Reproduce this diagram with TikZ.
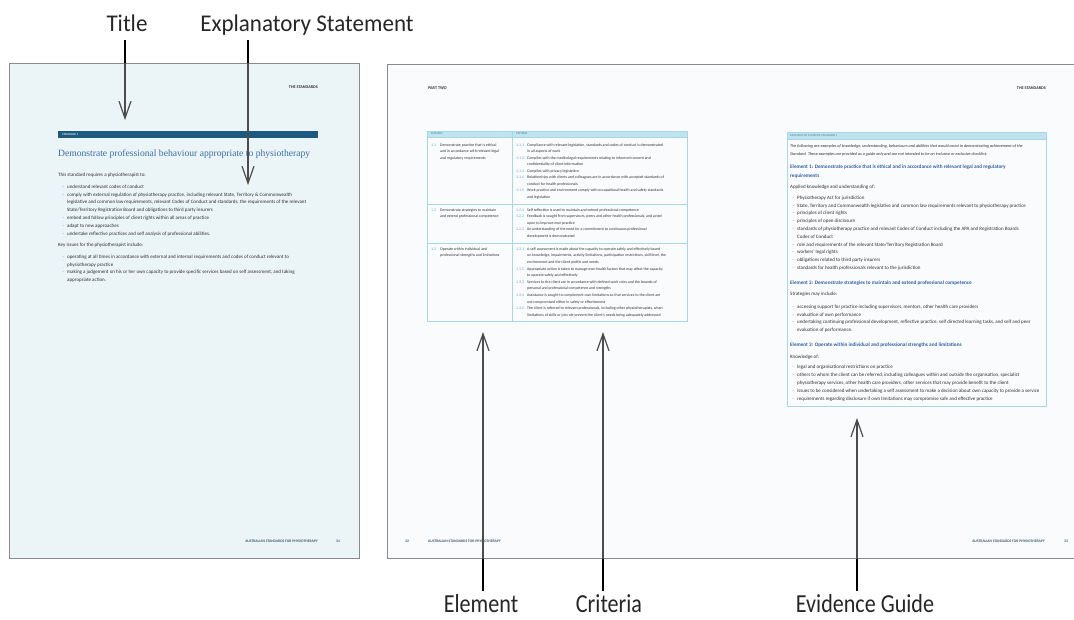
\documentclass[tikz,border=0pt]{standalone}
\usepackage{fontspec}
\setmainfont{Carlito}
\newfontfamily\calloutfont[FakeStretch=0.96]{Carlito}
\newfontfamily\calloutfontb[FakeStretch=0.85]{Carlito}
\newfontfamily\headserif{Liberation Serif}
\usepackage{array}
\usetikzlibrary{arrows.meta,positioning}

\definecolor{leafblue}{HTML}{EBF4F7}
\definecolor{leafwhite}{HTML}{FAFBFC}
\definecolor{leafedge}{HTML}{8A8A8A}
\definecolor{barblue}{HTML}{1D5A80}
\definecolor{titleblue}{HTML}{3C6EA5}
\definecolor{headblue}{HTML}{2F5F9F}
\definecolor{dashblue}{HTML}{5FA8D3}
\definecolor{gridblue}{HTML}{A6D6E8}
\definecolor{capblue}{HTML}{BFE4EF}
\definecolor{capink}{HTML}{6A9BB5}
\definecolor{inkgray}{HTML}{303030}
\definecolor{footblue}{HTML}{3C5A72}

\newcommand{\bdash}{\textcolor{dashblue}{--}}
\newcommand{\critno}[1]{\textcolor{dashblue}{#1}}
\newcommand{\dashlist}[1]{\begin{tabular}[t]{@{}p{5pt}@{}l@{}}#1\end{tabular}}
\newcommand{\textrows}[1]{\begin{tabular}[t]{@{}l@{}}#1\end{tabular}}
\newcommand{\critrows}[2]{\begin{tabular}[t]{@{}p{#1}@{}l@{}}#2\end{tabular}}

\begin{document}
\begin{tikzpicture}[
    x=1pt, y=-1pt,
    page/.style={draw=leafedge, line width=1.3pt, inner sep=0pt, anchor=north west},
    callout/.style={font=\calloutfont\fontsize{24}{26}\selectfont, text=black!85, inner sep=2pt, text depth=6pt, anchor=south},
    calloutb/.style={font=\calloutfontb\fontsize{26}{28}\selectfont, text=black!85, inner sep=0pt, text height=21pt, text depth=0pt, anchor=north},
    inarrow/.style={draw=black!70, line width=1.2pt, -{Straight Barb[length=17pt,width=12pt]}},
    outarrow/.style={draw=black, line width=2.2pt},
    body/.style={anchor=base west, inner sep=0pt, text=inkgray, font=\fontsize{5}{7.8}\selectfont},
    cell/.style={anchor=base west, inner sep=0pt, text=inkgray, font=\fontsize{3.9}{6.5}\selectfont},
    runhead/.style={inner sep=0pt, text=inkgray, font=\bfseries\fontsize{4.2}{5}\selectfont},
    foot/.style={inner sep=0pt, text=footblue, font=\bfseries\fontsize{3.7}{4}\selectfont},
    caption/.style={anchor=west, inner sep=0pt, text=capink, font=\bfseries\fontsize{3}{4}\selectfont},
    elhead/.style={anchor=base west, inner sep=0pt, text=headblue, font=\bfseries\fontsize{5.2}{9}\selectfont},
    grid/.style={draw=gridblue, line width=0.8pt}
]

\useasboundingbox (0,0) rectangle (1074,619);
\clip (0,0) rectangle (1074,619);
\fill[white] (0,0) rectangle (1074,619);

% Pages
\node[page, fill=leafblue, minimum width=350pt, minimum height=495pt] (page1) at (9,63) {};
\node[page, fill=leafwhite, minimum width=700pt, minimum height=494pt] (spread) at (387,64) {};

% Standard page: header, title and explanatory statement
\node[runhead, anchor=east] (p1head) at (318,87) {THE STANDARDS};
\fill[barblue] (58,131) rectangle (318,138);
\node[caption, text=white!80!barblue] (p1bar) at (62,134.5) {STANDARD 1};
\node[anchor=west, inner sep=0pt, text=titleblue, font=\headserif\fontsize{9.6}{11}\selectfont] (p1title) at (58,154) {Demonstrate professional behaviour appropriate to physiotherapy};

\node[body] (p1intro) at (58,176.2) {This standard requires a physiotherapist to:};
\node[body] (p1list) at (62,188.2) {\dashlist{%
    \bdash & understand relevant codes of conduct\\
    \bdash & comply with external regulation of physiotherapy practice, including relevant State, Territory \& Commonwealth\\
           & legislative and common law requirements, relevant Codes of Conduct and standards, the requirements of the relevant\\
           & State/Territory Registration Board and obligations to third party insurers\\
    \bdash & embed and follow principles of client rights within all areas of practice\\
    \bdash & adapt to new approaches\\
    \bdash & undertake reflective practices and self analysis of professional abilities.}};
\node[body] (p1key) at (58,246.2) {Key issues for the physiotherapist include:};
\node[body] (p1issues) at (62,258.2) {\dashlist{%
    \bdash & operating at all times in accordance with external and internal requirements and codes of conduct relevant to\\
           & physiotherapy practice\\
    \bdash & making a judgement on his or her own capacity to provide specific services based on self assessment, and taking\\
           & appropriate action.}};
\node[foot, anchor=east] (p1foot) at (318,541) {AUSTRALIAN STANDARDS FOR PHYSIOTHERAPY};
\node[foot] (p1no) at (338,541) {31};

% Spread, left page: element and criteria table
\node[runhead, anchor=west] (p2head) at (428,88) {PART TWO};
\fill[capblue] (427,131) rectangle (687,137);
\draw[grid] (427,131) rectangle (687,321);
\draw[grid] (512,131) -- (512,321);
\foreach \y in {137,204,243} {
    \draw[grid] (427,\y) -- (687,\y);
}
\node[caption] (elcap) at (431,134) {ELEMENT};
\node[caption] (crcap) at (516,134) {CRITERIA};

\node[cell] (el1) at (431,146.2) {\critrows{9pt}{%
    \critno{1.1} & Demonstrate practice that is ethical\\
                 & and in accordance with relevant legal\\
                 & and regulatory requirements}};
\node[cell] (cr1) at (516,146.2) {\critrows{11pt}{%
    \critno{1.1.1} & Compliance with relevant legislation, standards and codes of conduct is demonstrated\\
                   & in all aspects of work\\
    \critno{1.1.2} & Complies with the medicolegal requirements relating to informed consent and\\
                   & confidentiality of client information\\
    \critno{1.1.3} & Complies with privacy legislation\\
    \critno{1.1.4} & Relationships with clients and colleagues are in accordance with accepted standards of\\
                   & conduct for health professionals\\
    \critno{1.1.5} & Work practice and environment comply with occupational health and safety standards\\
                   & and legislation}};

\node[cell] (el2) at (431,211.2) {\critrows{9pt}{%
    \critno{1.2} & Demonstrate strategies to maintain\\
                 & and extend professional competence}};
\node[cell] (cr2) at (516,211.2) {\critrows{11pt}{%
    \critno{1.2.1} & Self reflection is used to maintain and extend professional competence\\
    \critno{1.2.2} & Feedback is sought from supervisors, peers and other health professionals, and acted\\
                   & upon to improve own practice\\
    \critno{1.2.3} & An understanding of the need for a commitment to continuous professional\\
                   & development is demonstrated}};

\node[cell] (el3) at (431,250.2) {\critrows{9pt}{%
    \critno{1.3} & Operate within individual and\\
                 & professional strengths and limitations}};
\node[cell, font=\fontsize{3.9}{6.6}\selectfont] (cr3) at (516,250.2) {\critrows{11pt}{%
    \critno{1.3.1} & A self assessment is made about the capacity to operate safely and effectively based\\
                   & on knowledge, impairments, activity limitations, participation restrictions, skill level, the\\
                   & environment and the client profile and needs\\
    \critno{1.3.2} & Appropriate action is taken to manage own health factors that may affect the capacity\\
                   & to operate safely and effectively\\
    \critno{1.3.3} & Services to the client are in accordance with defined work roles and the bounds of\\
                   & personal and professional competence and strengths\\
    \critno{1.3.4} & Assistance is sought to complement own limitations so that services to the client are\\
                   & not compromised either in safety or effectiveness\\
    \critno{1.3.5} & The client is referred to relevant professionals, including other physiotherapists, when\\
                   & limitations of skills or job role prevent the client's needs being adequately addressed}};
\node[foot] (p2no) at (407,541) {32};
\node[foot, anchor=west] (p2foot) at (428,541) {AUSTRALIAN STANDARDS FOR PHYSIOTHERAPY};

% Spread, right page: evidence guide
\node[runhead, anchor=east] (p3head) at (1046,88) {THE STANDARDS};
\fill[capblue] (787,132) rectangle (1046,139);
\draw[grid] (787,132) rectangle (1046,406);
\draw[grid] (787,139) -- (1046,139);
\node[caption] (evcap) at (790,135.5) {EXAMPLES OF EVIDENCE STANDARD 1};

\node[body, font=\itshape\fontsize{4.2}{8}\selectfont] (evintro) at (790,147.2) {\textrows{%
    The following are examples of knowledge, understanding, behaviours and abilities that would assist in demonstrating achievement of the\\
    Standard. These examples are provided as a guide only and are not intended to be an inclusive or exclusive checklist.}};
\node[elhead] (ev1) at (790,168.5) {\textrows{%
    Element 1: Demonstrate practice that is ethical and in accordance with relevant legal and regulatory\\
    requirements}};
\node[body] (ev1lead) at (790,188.2) {Applied knowledge and understanding of:};
\node[body] (ev1list) at (792,199.2) {\dashlist{%
    \bdash & Physiotherapy Act for jurisdiction\\
    \bdash & State, Territory and Commonwealth legislative and common law requirements relevant to physiotherapy practice\\
    \bdash & principles of client rights\\
    \bdash & principles of open disclosure\\
    \bdash & standards of physiotherapy practice and relevant Codes of Conduct including the APA and Registration Boards\\
           & Codes of Conduct\\
    \bdash & role and requirements of the relevant State/Territory Registration Board\\
    \bdash & workers' legal rights\\
    \bdash & obligations related to third party insurers\\
    \bdash & standards for health professionals relevant to the jurisdiction}};
\node[elhead] (ev2) at (790,284.5) {Element 2: Demonstrate strategies to maintain and extend professional competence};
\node[body] (ev2lead) at (790,295.2) {Strategies may include:};
\node[body] (ev2list) at (792,308.2) {\dashlist{%
    \bdash & accessing support for practice including supervisors, mentors, other health care providers\\
    \bdash & evaluation of own performance\\
    \bdash & undertaking continuing professional development, reflective practice, self directed learning tasks, and self and peer\\
           & evaluation of performance.}};
\node[elhead] (ev3) at (790,346.5) {Element 3: Operate within individual and professional strengths and limitations};
\node[body] (ev3lead) at (790,358.2) {Knowledge of:};
\node[body, font=\fontsize{5}{8}\selectfont] (ev3list) at (792,368.2) {\dashlist{%
    \bdash & legal and organisational restrictions on practice\\
    \bdash & others to whom the client can be referred, including colleagues within and outside the organisation, specialist\\
           & physiotherapy services, other health care providers, other services that may provide benefit to the client\\
    \bdash & issues to be considered when undertaking a self assessment to make a decision about own capacity to provide a service\\
    \bdash & requirements regarding disclosure if own limitations may compromise safe and effective practice}};
\node[foot, anchor=east] (p3foot) at (1045,541) {AUSTRALIAN STANDARDS FOR PHYSIOTHERAPY};
\node[foot] (p3no) at (1066,541) {33};

% Callout labels
\node[callout] (titleLbl) at (127,40) {Title};
\node[callout] (explLbl) at (307,40) {Explanatory Statement};
\node[calloutb] (elemLbl) at (481,591) {Element};
\node[calloutb] (critLbl) at (609,591) {Criteria};
\node[calloutb] (evidLbl) at (865,591) {Evidence Guide};

% Arrow tips
\coordinate (titleTip) at (125,120);
\coordinate (explTip) at (248,185);
\coordinate (elemTip) at (483,332);
\coordinate (critTip) at (603,332);
\coordinate (evidTip) at (857,418);

% Arrows
\foreach \lbl/\tip/\pg in {titleLbl/titleTip/page1.north, explLbl/explTip/page1.north} {
    \draw[inarrow] (\lbl.south -| \tip) -- (\tip);
    \draw[outarrow] (\lbl.south -| \tip) -- (\tip |- \pg);
}
\foreach \lbl/\tip/\pg in {elemLbl/elemTip/spread.south, critLbl/critTip/spread.south, evidLbl/evidTip/spread.south} {
    \draw[inarrow] (\lbl.north -| \tip) -- (\tip);
    \draw[outarrow] (\lbl.north -| \tip) -- (\tip |- \pg);
}

\end{tikzpicture}
\end{document}
